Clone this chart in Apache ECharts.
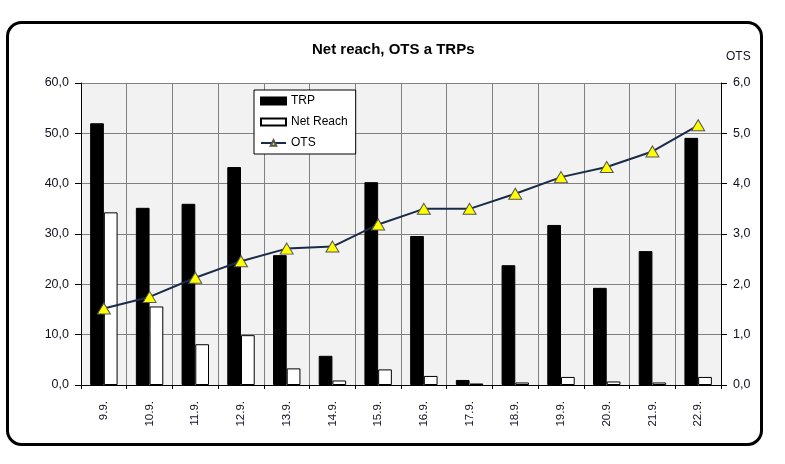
<!DOCTYPE html>
<html>
<head>
<meta charset="utf-8">
<script src="https://cdn.jsdelivr.net/npm/echarts@6/dist/echarts.min.js"></script>
<style>html,body{margin:0;padding:0;background:#fff}#c{width:785px;height:464px}</style>
</head>
<body>
<div id="c"></div>
<script>
var categories = ['9.9.','10.9.','11.9.','12.9.','13.9.','14.9.','15.9.','16.9.','17.9.','18.9.','19.9.','20.9.','21.9.','22.9.'];
var trp = [52.0, 35.2, 36.0, 43.3, 25.8, 5.8, 40.3, 29.6, 1.0, 23.8, 31.8, 19.3, 26.6, 49.1];
var netReach = [34.3, 15.6, 8.1, 9.9, 3.3, 0.9, 3.1, 1.8, 0.3, 0.5, 1.6, 0.7, 0.5, 1.6];
var ots = [1.52, 1.75, 2.13, 2.46, 2.71, 2.75, 3.19, 3.50, 3.50, 3.80, 4.13, 4.33, 4.64, 5.16];
var leftTicks = {min: 0, max: 60, interval: 10};
var rightTicks = {min: 0, max: 6, interval: 1};

var fmt = function (v) { return v.toFixed(1).replace('.', ','); };
var FONT = 'Liberation Sans, Arial, sans-serif';
var TXT = '#111122';

var chart = echarts.init(document.getElementById('c'), null, {renderer: 'canvas'});
chart.setOption({
  backgroundColor: '#ffffff',
  animation: false,
  title: {
    text: 'Net reach, OTS a TRPs',
    left: 312, top: 42, padding: 0,
    textStyle: {fontFamily: FONT, fontSize: 15, fontWeight: 'bold', color: '#000'}
  },
  graphic: [{
    type: 'rect', silent: true, z: -1,
    shape: {x: 7.5, y: 22.5, width: 754, height: 422, r: 14},
    style: {fill: null, stroke: '#000', lineWidth: 3}
  }],
  legend: {
    orient: 'vertical', left: 254, top: 90,
    padding: [5, 8, 5, 6], itemGap: 9, itemWidth: 25, itemHeight: 7,
    backgroundColor: '#fff', borderColor: '#000', borderWidth: 1, borderRadius: 0,
    textStyle: {fontFamily: FONT, fontSize: 12, color: '#000'},
    data: [{name: 'TRP', icon: 'rect'}, {name: 'Net Reach', icon: 'rect'}, {name: 'OTS'}]
  },
  grid: {left: 81, right: 64, top: 83, bottom: 79, containLabel: false,
    show: true, backgroundColor: '#f2f2f2', borderWidth: 0},
  xAxis: {
    type: 'category', data: categories, boundaryGap: true,
    axisLine: {lineStyle: {color: '#000', width: 1}},
    axisTick: {show: true, length: 4, lineStyle: {color: '#000'}},
    splitLine: {show: true, lineStyle: {color: '#808080', width: 1}},
    axisLabel: {rotate: 90, margin: 16, fontFamily: FONT, fontSize: 11.5, color: TXT, interval: 0}
  },
  yAxis: [{
    type: 'value', min: leftTicks.min, max: leftTicks.max, interval: leftTicks.interval, position: 'left',
    axisLine: {show: true, lineStyle: {color: '#000', width: 1}},
    axisTick: {show: true, length: 6, lineStyle: {color: '#000'}},
    splitLine: {show: true, lineStyle: {color: '#808080', width: 1}},
    axisLabel: {formatter: fmt, margin: 12, fontFamily: FONT, fontSize: 12.5, color: TXT}
  }, {
    type: 'value', min: rightTicks.min, max: rightTicks.max, interval: rightTicks.interval, position: 'right',
    name: 'OTS', nameLocation: 'end', nameGap: 20,
    nameTextStyle: {fontFamily: FONT, fontSize: 12, color: TXT, align: 'left', padding: [0, 0, 0, 5]},
    axisLine: {show: true, lineStyle: {color: '#000', width: 1}},
    axisTick: {show: true, length: 6, lineStyle: {color: '#000'}},
    splitLine: {show: false},
    axisLabel: {formatter: fmt, margin: 12, fontFamily: FONT, fontSize: 12.5, color: TXT}
  }],
  series: [{
    name: 'TRP', type: 'bar', yAxisIndex: 0, data: trp,
    barGap: '0%', barCategoryGap: '40%',
    itemStyle: {color: '#000', borderColor: '#000', borderWidth: 1}
  }, {
    name: 'Net Reach', type: 'bar', yAxisIndex: 0, data: netReach,
    barGap: '0%', barCategoryGap: '40%',
    itemStyle: {color: '#fff', borderColor: '#000', borderWidth: 1}
  }, {
    name: 'OTS', type: 'line', yAxisIndex: 1, data: ots,
    symbol: 'triangle', symbolSize: [13, 11],
    lineStyle: {color: '#1a2b48', width: 2},
    itemStyle: {color: '#ffff00', borderColor: '#555555', borderWidth: 1},
    z: 5
  }]
});
</script>
</body>
</html>
